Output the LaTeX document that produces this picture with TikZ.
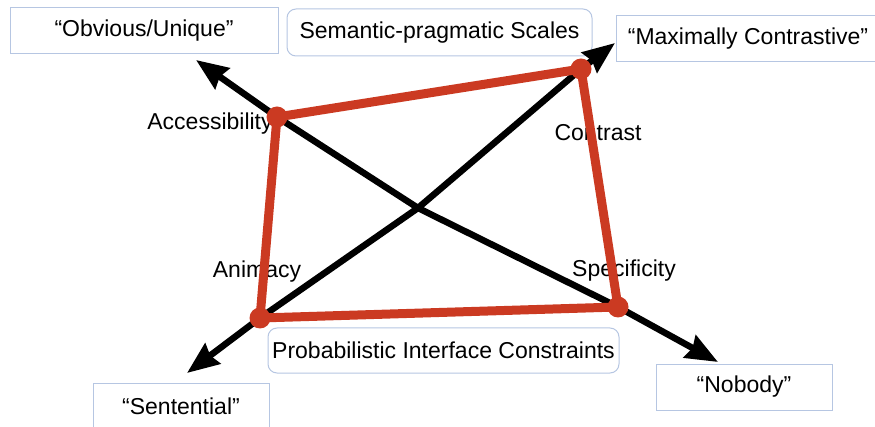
\documentclass[tikz,border=0pt]{standalone}
\usepackage{fontspec}
\setmainfont{Liberation Sans}
\usetikzlibrary{arrows.meta}
\definecolor{scalered}{RGB}{203,58,34}
\definecolor{boxblue}{RGB}{182,198,226}

\begin{document}
\begin{tikzpicture}[x=1pt,y=-1pt,>={Stealth[length=32pt,width=25pt,inset=3pt]},
  font=\fontsize{23}{27}\selectfont,
  endbox/.style={draw=boxblue,line width=1pt,fill=white,inner sep=0pt},
  titlebox/.style={endbox,rounded corners=9pt},
  axisline/.style={line width=6.5pt,line join=round,<->},
  scaleline/.style={draw=scalered,line width=9pt,line join=round},
  dot/.style={circle,fill=scalered,inner sep=0pt,minimum size=21pt}]
  \useasboundingbox (0,0) rectangle (875,427);
  % end points of the two scales
  \node[endbox,minimum width=268pt,minimum height=46pt] (obvious) at (144,31) {``Obvious/Unique''};
  \node[endbox,minimum width=264pt,minimum height=46pt] (maximal) at (748,39) {``Maximally Contrastive''};
  \node[endbox,minimum width=176pt,minimum height=46pt] (sentential) at (181,406) {``Sentential''};
  \node[endbox,minimum width=176pt,minimum height=46pt] (nobody) at (744,387) {``Nobody''};
  \node[titlebox,minimum width=305pt,minimum height=47pt] (scales) at (439.5,32.5) {Semantic-pragmatic Scales};
  \node[titlebox,minimum width=351pt,minimum height=45pt] (interface) at (443.5,350.5) {Probabilistic Interface Constraints};
  % labels of the corners
  \node (acclabel) at (210,124) {Accessibility};
  \node (conlabel) at (598,133) {Contrast};
  \node (anilabel) at (257,272) {Animacy};
  \node (spelabel) at (624,271) {Specificity};
  % corners and arrow tips
  \coordinate (acc) at (277,117); \coordinate (con) at (581,69);
  \coordinate (spe) at (618,307); \coordinate (ani) at (260,318);
  \coordinate (cross) at (418,208);
  \coordinate (obvtip) at (196,60); \coordinate (nobtip) at (718,362);
  \coordinate (sentip) at (187,373); \coordinate (maxtip) at (615,43);
  % arrows
  \draw[axisline] (obvtip) -- (acc) -- (cross) -- (spe) -- (nobtip);
  \draw[axisline] (sentip) -- (ani) -- (cross) -- (con) -- (maxtip);
  % the red quadrilateral
  \draw[scaleline] (acc) -- (con) -- (spe) -- (ani) -- cycle;
  \foreach \c in {acc,con,spe,ani} \node[dot] at (\c) {};
\end{tikzpicture}
\end{document}
